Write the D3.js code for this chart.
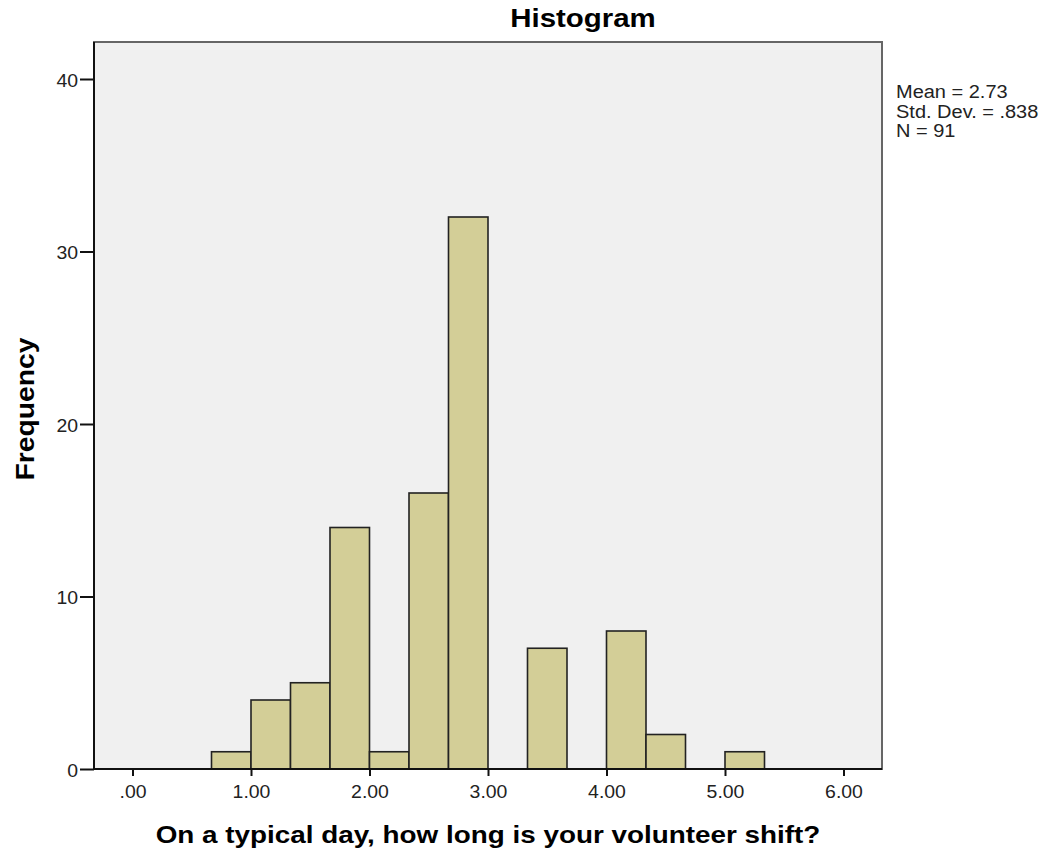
<!DOCTYPE html>
<html>
<head>
<meta charset="utf-8">
<script src="https://cdn.jsdelivr.net/npm/d3@7"></script>
<style>
  body { margin: 0; background: #fff; }
  text { font-family: "Liberation Sans", Arial, sans-serif; }
</style>
</head>
<body>
<div id="chart"></div>
<script>
// bin edges (width 1/3) and counts
const binStarts = [2/3, 1, 4/3, 5/3, 2, 7/3, 8/3, 3, 10/3, 11/3, 4, 13/3, 14/3, 5];
const counts    = [1, 4, 5, 14, 1, 16, 32, 0, 7, 0, 8, 2, 0, 1];
const binWidth = 1/3;
const xTicks = [0, 1, 2, 3, 4, 5, 6];
const yTicks = [0, 10, 20, 30, 40];
const stats = ["Mean = 2.73", "Std. Dev. = .838", "N = 91"];

const width = 1048, height = 851;
const plot = {left: 94, top: 42, right: 882, bottom: 769};
const widen = 1.11; // the reference text is drawn a bit wide

// stretch text horizontally along its run
function stretch(sel, k) {
  sel.each(function() {
    const w = this.getComputedTextLength();
    d3.select(this).attr("textLength", w * k).attr("lengthAdjust", "spacingAndGlyphs");
  });
}

const svg = d3.select("#chart")
  .append("svg")
  .attr("width", width)
  .attr("height", height);

const x = d3.scaleLinear().domain([0, 6]).range([132.5, 843.5]);
const y = d3.scaleLinear().domain([0, 40]).range([plot.bottom, 79]);

// plot background
svg.append("rect")
  .attr("x", plot.left)
  .attr("y", plot.top)
  .attr("width", plot.right - plot.left)
  .attr("height", plot.bottom - plot.top)
  .attr("fill", "#f0f0f0")
  .attr("stroke", "#666")
  .attr("stroke-width", 2);

// bars
svg.selectAll("rect.bar")
  .data(binStarts.map((s, i) => ({s: s, n: counts[i]})).filter(d => d.n > 0))
  .enter()
  .append("rect")
  .attr("class", "bar")
  .attr("x", d => x(d.s))
  .attr("y", d => y(d.n))
  .attr("width", d => x(d.s + binWidth) - x(d.s))
  .attr("height", d => y(0) - y(d.n))
  .attr("fill", "#d3ce97")
  .attr("stroke", "#222")
  .attr("stroke-width", 1.6);

// x axis
const xAxis = svg.append("g")
  .attr("transform", "translate(0," + plot.bottom + ")")
  .call(d3.axisBottom(x).tickValues(xTicks).tickSize(7).tickPadding(5)
    .tickFormat(d => d3.format(".2f")(d).replace(/^0/, "")));
xAxis.select(".domain").attr("d", "M" + plot.left + ",0H" + plot.right)
  .attr("stroke", "#111").attr("stroke-width", 2);
xAxis.selectAll(".tick line").attr("stroke", "#111").attr("stroke-width", 2);
xAxis.selectAll("text").attr("font-size", 17.5).attr("fill", "#222").attr("dy", "0.95em");
stretch(xAxis.selectAll("text"), widen);

// y axis
const yAxis = svg.append("g")
  .attr("transform", "translate(" + plot.left + ",0)")
  .call(d3.axisLeft(y).tickValues(yTicks).tickSize(14).tickPadding(2));
yAxis.select(".domain").attr("d", "M0," + plot.top + "V" + plot.bottom)
  .attr("stroke", "#111").attr("stroke-width", 2);
yAxis.selectAll(".tick line").attr("stroke", "#111").attr("stroke-width", 2);
yAxis.selectAll("text").attr("font-size", 17.5).attr("fill", "#222").attr("dy", "0.42em");
stretch(yAxis.selectAll("text"), widen);

// title and axis labels
const title = svg.append("text")
  .attr("x", 583).attr("y", 27)
  .attr("text-anchor", "middle")
  .attr("font-size", 26.5).attr("font-weight", "bold")
  .text("Histogram");
stretch(title, widen);

const xLabel = svg.append("text")
  .attr("x", 488).attr("y", 843)
  .attr("text-anchor", "middle")
  .attr("font-size", 24).attr("font-weight", "bold")
  .text("On a typical day, how long is your volunteer shift?");
stretch(xLabel, 1.16);

const yLabel = svg.append("text")
  .attr("transform", "translate(34,409) rotate(-90)")
  .attr("text-anchor", "middle")
  .attr("font-size", 25).attr("font-weight", "bold")
  .text("Frequency");
stretch(yLabel, 1.13);

// stats box text
const statText = svg.selectAll("text.stat")
  .data(stats)
  .enter()
  .append("text")
  .attr("class", "stat")
  .attr("x", 896)
  .attr("y", (d, i) => 98 + i * 19.5)
  .attr("font-size", 18)
  .attr("fill", "#222")
  .text(d => d);
stretch(statText, widen);
</script>
</body>
</html>
